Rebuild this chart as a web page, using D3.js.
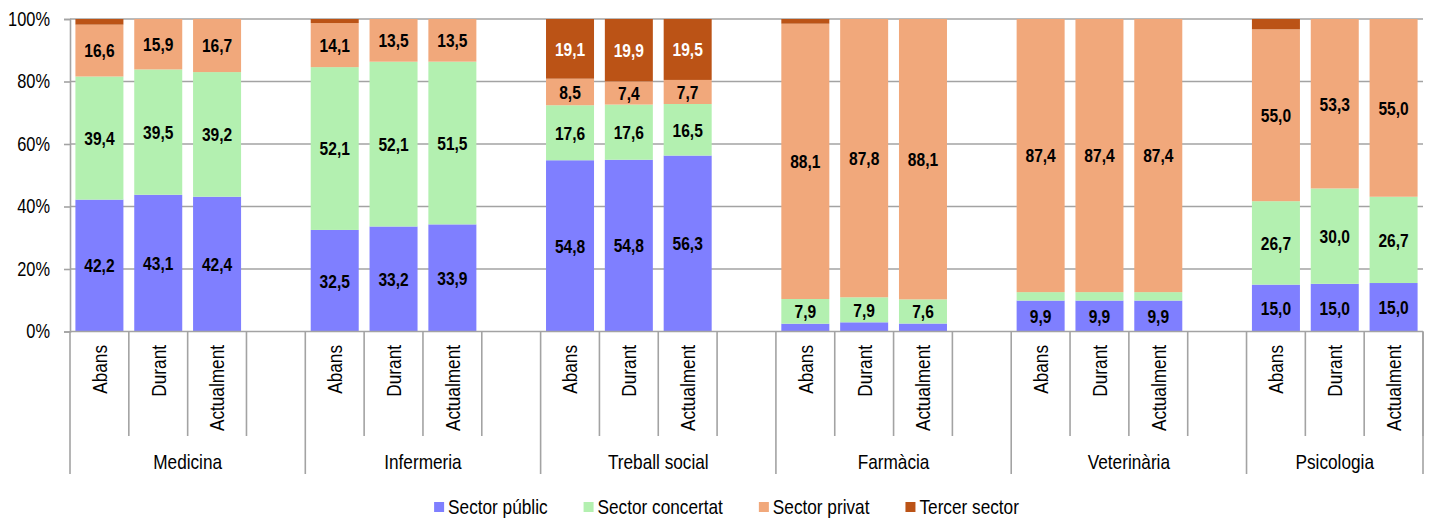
<!DOCTYPE html>
<html>
<head>
<meta charset="utf-8">
<script src="https://cdn.jsdelivr.net/npm/d3@7"></script>
<style>
  html, body { margin: 0; padding: 0; background: #fff; }
  svg { display: block; }
  text { font-family: "Liberation Sans", Arial, sans-serif; }
</style>
</head>
<body>
<svg id="chart" width="1433" height="523"></svg>
<script>
// ---- Data ----
const groups = ["Medicina", "Infermeria", "Treball social", "Farmàcia", "Veterinària", "Psicologia"];
const periods = ["Abans", "Durant", "Actualment"];
const seriesNames = ["Sector públic", "Sector concertat", "Sector privat", "Tercer sector"];
const seriesColors = ["#7f7fff", "#b3f0b0", "#f1a87b", "#bb5316"];
// values per bar, in order group x period
const publicVals    = [42.2, 43.1, 42.4, 32.5, 33.2, 33.9, 54.8, 54.8, 56.3, 2.5, 2.9, 2.5, 9.9, 9.9, 9.9, 15.0, 15.0, 15.0];
const concertatVals = [39.4, 39.5, 39.2, 52.1, 52.1, 51.5, 17.6, 17.6, 16.5, 7.9, 7.9, 7.6, 2.7, 2.7, 2.7, 26.7, 30.0, 26.7];
const privatVals    = [16.6, 15.9, 16.7, 14.1, 13.5, 13.5, 8.5, 7.4, 7.7, 88.1, 87.8, 88.1, 87.4, 87.4, 87.4, 55.0, 53.3, 55.0];
const tercerVals    = [1.8, 0, 0, 1.3, 0, 0, 19.1, 19.9, 19.5, 1.5, 0, 0, 0, 0, 0, 3.3, 0, 0];
const yTicks = [0, 0.2, 0.4, 0.6, 0.8, 1.0];

(function () {
// ---- Build table ----
const keys = ["pub", "con", "pri", "ter"];
const valueArrays = [publicVals, concertatVals, privatVals, tercerVals];
const rows = [];
groups.forEach((g, gi) => {
  periods.forEach((p, pi) => {
    const i = gi * periods.length + pi;
    const r = { slot: g + "|" + p, group: g, period: p };
    keys.forEach((k, ki) => r[k] = valueArrays[ki][i]);
    rows.push(r);
  });
});
// slot domain: 4 slots per group (3 periods + empty spacer)
const slots = [];
groups.forEach(g => { periods.forEach(p => slots.push(g + "|" + p)); slots.push(g + "|_gap"); });

// ---- Layout ----
const svg = d3.select("#chart");
const pLeft = 70, pRight = 1423, pTop = 19, pBottom = 331.5;
const step = (pRight - pLeft) / 23;
const x = d3.scaleBand().domain(slots).range([pLeft, pLeft + step * slots.length])
  .paddingInner(0.184).paddingOuter(0.092);
const y = d3.scaleLinear().domain([0, 1]).range([pBottom, pTop]);

const gridColor = "#a3a3a3";
const NARROW = 0.82;

// gridlines
svg.append("g").selectAll("line").data(yTicks.filter(t => t > 0)).join("line")
  .attr("x1", pLeft).attr("x2", pRight)
  .attr("y1", d => y(d)).attr("y2", d => y(d))
  .attr("stroke", gridColor).attr("stroke-width", 1.6);

// stacked bars (100%)
const stack = d3.stack().keys(keys).offset(d3.stackOffsetExpand);
const stacked = stack(rows);
const layers = svg.append("g").selectAll("g").data(stacked).join("g")
  .attr("fill", (d, i) => seriesColors[i]);
layers.selectAll("rect").data(d => d).join("rect")
  .attr("x", d => x(d.data.slot))
  .attr("width", x.bandwidth())
  .attr("y", d => y(d[1]))
  .attr("height", d => Math.max(0, y(d[0]) - y(d[1])));

// data labels
const fmt = v => d3.format(".1f")(v).replace(".", ",");
stacked.forEach((layer, li) => {
  svg.append("g").selectAll("text").data(layer.filter(d => d.data[keys[li]] >= 5)).join("text")
    .attr("transform", d => `translate(${x(d.data.slot) + x.bandwidth() / 2},${(y(d[0]) + y(d[1])) / 2}) scale(${NARROW},1)`)
    .attr("dy", "0.36em")
    .attr("text-anchor", "middle")
    .attr("font-size", 19)
    .attr("font-weight", "bold")
    .attr("fill", li === 3 ? "#ffffff" : "#000000")
    .text(d => fmt(d.data[keys[li]]));
});

// y axis
const yAxis = d3.axisLeft(y).tickValues(yTicks).tickSize(6).tickPadding(0)
  .tickFormat(d3.format(".0%"));
const ya = svg.append("g").attr("transform", `translate(${pLeft},0)`).call(yAxis);
ya.select(".domain").attr("stroke", gridColor).attr("stroke-width", 1.6);
ya.selectAll(".tick line").attr("stroke", gridColor).attr("stroke-width", 1.6);
ya.selectAll(".tick text").attr("font-size", 20).attr("fill", "#000")
  .attr("x", null).attr("transform", `translate(-20,0) scale(${NARROW},1)`);

// x axis baseline
svg.append("line").attr("x1", pLeft).attr("x2", pRight).attr("y1", pBottom).attr("y2", pBottom)
  .attr("stroke", gridColor).attr("stroke-width", 1.6);

// separators between slots
const boundaries = [];
slots.forEach((s, i) => {
  const bx = pLeft + i * step;
  if (bx <= pRight + 0.5) boundaries.push({ x: bx, major: i % 4 === 0 });
});
boundaries.push({ x: pRight, major: true });
svg.append("g").selectAll("line").data(boundaries).join("line")
  .attr("x1", d => d.x).attr("x2", d => d.x)
  .attr("y1", pBottom).attr("y2", d => d.major ? 474 : 436)
  .attr("stroke", gridColor).attr("stroke-width", 1.6);

// period labels (rotated)
svg.append("g").selectAll("text").data(rows).join("text")
  .attr("transform", d => `translate(${x(d.slot) + x.bandwidth() / 2},345) rotate(-90) scale(${NARROW},1)`)
  .attr("dy", "0.35em")
  .attr("text-anchor", "end")
  .attr("font-size", 21)
  .attr("fill", "#000")
  .text(d => d.period);

// group labels
svg.append("g").selectAll("text").data(groups).join("text")
  .attr("transform", (g, i) => {
    const x0 = pLeft + i * 4 * step;
    const x1 = Math.min(pRight, x0 + 4 * step);
    return `translate(${(x0 + x1) / 2},462) scale(${NARROW},1)`;
  })
  .attr("dy", "0.35em")
  .attr("text-anchor", "middle")
  .attr("font-size", 21)
  .attr("fill", "#000")
  .text(d => d);

// legend
const legend = svg.append("g");
let lx = 0;
const gap = 36;
seriesNames.forEach((n, i) => {
  const gItem = legend.append("g");
  gItem.append("rect").attr("x", 0).attr("y", -5).attr("width", 10).attr("height", 10).attr("fill", seriesColors[i]);
  const t = gItem.append("text").attr("transform", `translate(14,0) scale(${NARROW},1)`).attr("dy", "0.35em")
    .attr("font-size", 21).attr("fill", "#000").text(n);
  const w = t.node().getComputedTextLength() * NARROW;
  gItem.attr("transform", `translate(${lx},0)`);
  lx += 14 + w + gap;
});
const totalW = lx - gap;
legend.attr("transform", `translate(${726.5 - totalW / 2},507)`);
})();
</script>
</body>
</html>
